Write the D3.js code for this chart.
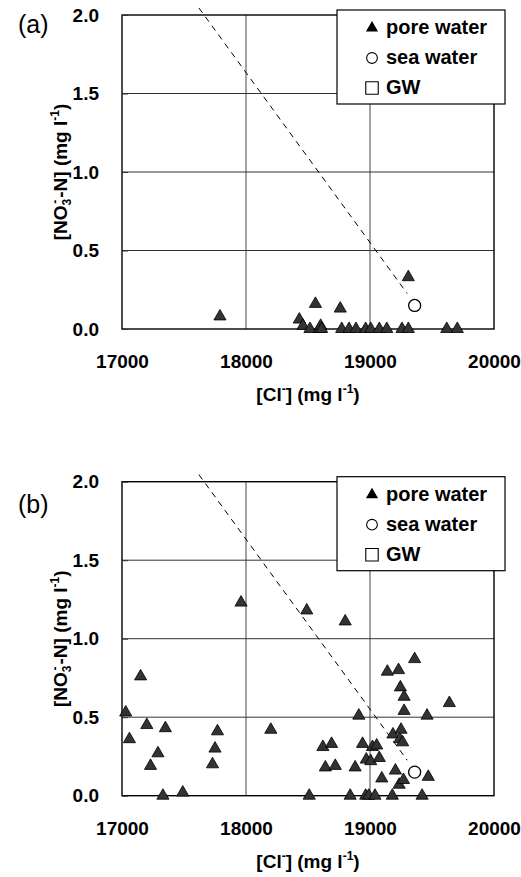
<!DOCTYPE html>
<html>
<head>
<meta charset="utf-8">
<script src="https://cdn.jsdelivr.net/npm/d3@7"></script>
<style>
  body { margin: 0; background: #fff; }
  svg { display: block; font-family: "Liberation Sans", Arial, sans-serif; }
</style>
</head>
<body>
<div id="chart"></div>
<script>
// x ticks, y ticks
var xTicks = [17000, 18000, 19000, 20000];
var yTicks = [0.0, 0.5, 1.0, 1.5, 2.0];
var gridX = [18000, 19000];
var gridY = [0.5, 1.0, 1.5];

// panel (a) pore water: [Cl-], [NO3-N]
var poreA = [
  [17790, 0.08], [18430, 0.06], [18460, 0.02], [18516, 0.0], [18560, 0.16],
  [18591, 0.0], [18602, 0.02], [18610, 0.0], [18760, 0.13], [18772, 0.0],
  [18831, 0.0], [18887, 0.0], [18965, 0.0], [19006, 0.0], [19075, 0.0],
  [19135, 0.0], [19258, 0.0], [19309, 0.0], [19309, 0.33], [19619, 0.0],
  [19704, 0.0]
];

// panel (b) pore water
var poreB = [
  [17030, 0.53], [17060, 0.36], [17150, 0.76], [17200, 0.45], [17230, 0.19],
  [17290, 0.27], [17330, 0.0], [17350, 0.43], [17490, 0.02], [17730, 0.20],
  [17750, 0.30], [17770, 0.41], [17960, 1.23], [18200, 0.42], [18490, 1.18],
  [18510, 0.0], [18620, 0.31], [18640, 0.18], [18690, 0.33], [18720, 0.19],
  [18800, 1.11], [18840, 0.0], [18880, 0.18], [18910, 0.51], [18940, 0.33],
  [18970, 0.23], [18965, 0.0], [18990, 0.0], [19040, 0.0], [19006, 0.22],
  [19020, 0.31], [19054, 0.32], [19075, 0.24], [19095, 0.11], [19140, 0.79],
  [19180, 0.0], [19185, 0.39], [19205, 0.16], [19230, 0.80], [19235, 0.07],
  [19240, 0.36], [19245, 0.69], [19250, 0.42], [19263, 0.34], [19270, 0.10],
  [19275, 0.63], [19275, 0.54], [19360, 0.87], [19420, 0.0], [19460, 0.51],
  [19470, 0.12], [19640, 0.59]
];

var seaWater = [[19360, 0.15]];
var mixLine = [[17620, 2.045], [19300, 0.226]];
var legendItems = ["pore water", "sea water", "GW"];

var svgWidth = 521;
var svgHeight = 877;

var svg = d3.select("#chart")
  .append("svg")
  .attr("width", svgWidth)
  .attr("height", svgHeight);

function drawPanel(top, points, label, labelDy) {
  var left = 122, right = 494, height = 314;

  var x = d3.scaleLinear().domain([17000, 20000]).range([left, right]);
  var y = d3.scaleLinear().domain([0, 2]).range([top + height, top]);

  var g = svg.append("g");

  // grid
  g.selectAll(".gx").data(gridX).enter().append("line")
    .attr("x1", d => x(d)).attr("x2", d => x(d))
    .attr("y1", top).attr("y2", top + height)
    .attr("stroke", "#444").attr("stroke-width", 1);
  g.selectAll(".gy").data(gridY).enter().append("line")
    .attr("x1", left).attr("x2", right)
    .attr("y1", d => y(d)).attr("y2", d => y(d))
    .attr("stroke", "#333").attr("stroke-width", 1);

  g.append("rect")
    .attr("x", left).attr("y", top)
    .attr("width", right - left).attr("height", height)
    .attr("fill", "none").attr("stroke", "#000").attr("stroke-width", 1.4);

  // axes
  var leftAxis = d3.axisLeft(y).tickValues(yTicks)
    .tickFormat(d3.format(".1f")).tickSize(-6).tickPadding(23);
  var ya = g.append("g").attr("transform", `translate(${left},0)`).call(leftAxis);
  var bottomAxis = d3.axisBottom(x).tickValues(xTicks)
    .tickFormat(d3.format("d")).tickSize(0).tickPadding(26);
  var xa = g.append("g").attr("transform", `translate(0,${top + height})`).call(bottomAxis);
  [ya, xa].forEach(function(a) {
    a.select(".domain").remove();
    a.selectAll("text").attr("font-size", 19).attr("font-weight", "bold")
      .attr("font-family", "Liberation Sans, Arial, sans-serif").attr("fill", "#000");
    a.selectAll("line").attr("stroke", "#333");
  });

  // mixing line
  g.append("path")
    .datum(mixLine)
    .attr("d", d3.line().x(d => x(d[0])).y(d => y(d[1])))
    .attr("fill", "none").attr("stroke", "#000").attr("stroke-width", 1)
    .attr("stroke-dasharray", "6,5");

  // pore water triangles
  var tri = d3.symbol(d3.symbolTriangle, 64);
  g.selectAll(".pore").data(points).enter().append("path")
    .attr("d", tri)
    .attr("transform", d => `translate(${x(d[0])},${y(d[1])})`)
    .attr("fill", "#333").attr("stroke", "#000").attr("stroke-width", 0.8);

  // sea water
  g.selectAll(".sea").data(seaWater).enter().append("circle")
    .attr("cx", d => x(d[0])).attr("cy", d => y(d[1]))
    .attr("r", 6)
    .attr("fill", "#fff").attr("stroke", "#000").attr("stroke-width", 1.3);

  // axis titles
  var xt = g.append("text")
    .attr("x", (left + right) / 2).attr("y", top + height + 72)
    .attr("text-anchor", "middle").attr("font-size", 19).attr("font-weight", "bold");
  xt.append("tspan").text("[Cl");
  xt.append("tspan").attr("font-size", 12).attr("dy", -8).text("-");
  xt.append("tspan").attr("dy", 8).text("] (mg l");
  xt.append("tspan").attr("font-size", 12).attr("dy", -8).text("-1");
  xt.append("tspan").attr("dy", 8).text(")");

  var yt = g.append("text")
    .attr("transform", `translate(67,${top + height / 2}) rotate(-90)`)
    .attr("text-anchor", "middle").attr("font-size", 19).attr("font-weight", "bold");
  yt.append("tspan").text("[NO");
  yt.append("tspan").attr("font-size", 12).attr("dy", 4).text("3");
  yt.append("tspan").attr("font-size", 12).attr("dy", -12).attr("dx", -5).text("-");
  yt.append("tspan").attr("dy", 8).attr("dx", 2).text("-N] (mg l");
  yt.append("tspan").attr("font-size", 12).attr("dy", -8).text("-1");
  yt.append("tspan").attr("dy", 8).text(")");

  // panel label
  g.append("text")
    .attr("x", 18).attr("y", top + labelDy)
    .attr("font-size", 25).text(label);

  // legend
  var lg = g.append("g").attr("transform", `translate(337,${top - 5})`);
  lg.append("rect")
    .attr("width", 168).attr("height", 94)
    .attr("fill", "#fff").attr("stroke", "#000").attr("stroke-width", 1.2);
  var row = d3.scaleBand().domain(legendItems).range([3, 93]);
  lg.selectAll(".lt").data(legendItems).enter().append("text")
    .attr("x", 49).attr("y", d => row(d) + row.bandwidth() / 2 + 6)
    .attr("font-size", 20).attr("font-weight", "bold").text(d => d);
  var sym = { "pore water": d3.symbolTriangle, "sea water": d3.symbolCircle, "GW": d3.symbolSquare };
  var symSize = { "pore water": 45, "sea water": 90, "GW": 155 };
  lg.selectAll(".ls").data(legendItems).enter().append("path")
    .attr("d", d => d3.symbol(sym[d], symSize[d])())
    .attr("transform", d => `translate(35,${row(d) + row.bandwidth() / 2})`)
    .attr("fill", d => d === "pore water" ? "#000" : "#fff")
    .attr("stroke", "#000").attr("stroke-width", 1.1);
}

drawPanel(15, poreA, "(a)", 18);
drawPanel(481.7, poreB, "(b)", 31);
</script>
</body>
</html>
